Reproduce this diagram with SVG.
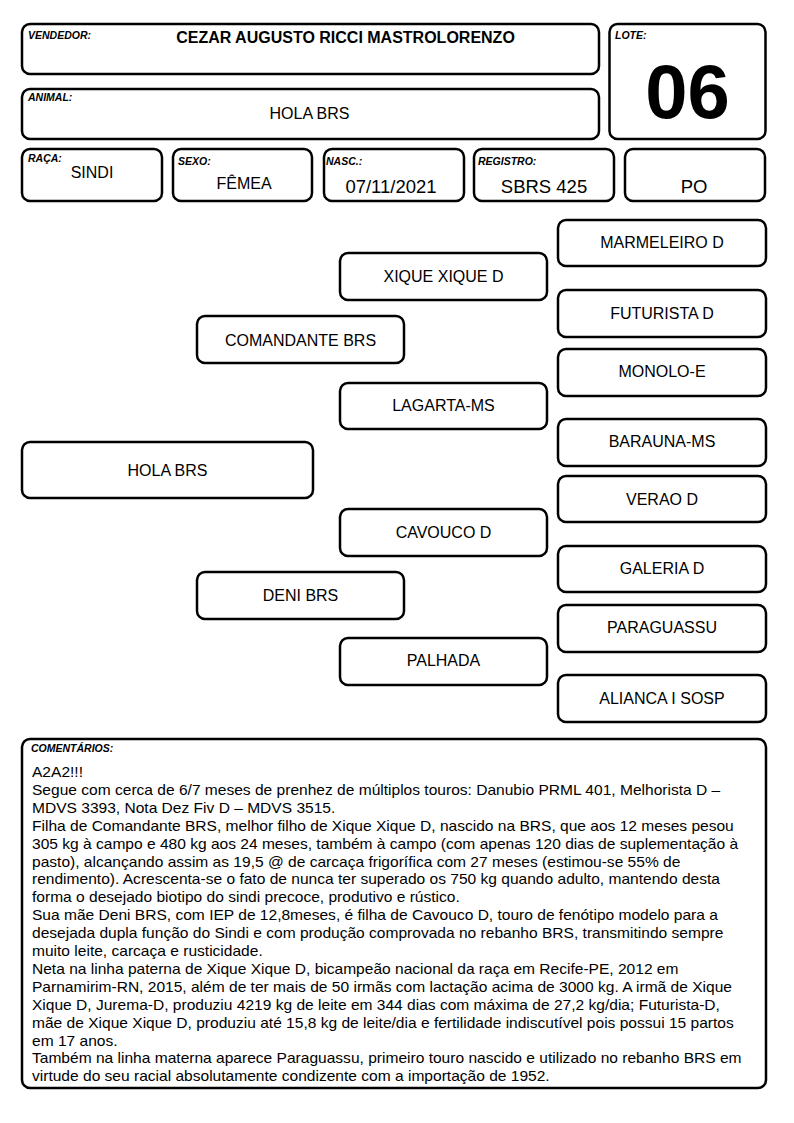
<svg xmlns="http://www.w3.org/2000/svg" width="794" height="1123" viewBox="0 0 794 1123">
<style>
.box{fill:#fff;stroke:#000;stroke-width:2.5}
text{font-family:"Liberation Sans",Arial,sans-serif;fill:#000}
.lbl{font-weight:bold;font-style:italic;font-size:10.5px}
.val{font-size:16px;text-anchor:middle}
.big{font-size:18.5px;text-anchor:middle}
.node text{font-size:16px;text-anchor:middle}
.cm{font-size:15.55px}
</style>
<rect width="794" height="1123" fill="#fff"/>
<g id="header">
  <g id="vendedor">
    <rect class="box" x="22" y="24" width="577" height="50" rx="8"/>
    <text class="lbl" x="28" y="39">VENDEDOR:</text>
    <text x="345.5" y="43" font-size="16" font-weight="bold" text-anchor="middle">CEZAR AUGUSTO RICCI MASTROLORENZO</text>
  </g>
  <g id="lote">
    <rect class="box" x="609.5" y="24" width="156" height="115" rx="8"/>
    <text class="lbl" x="615" y="39">LOTE:</text>
    <text x="687.5" y="118" font-size="76" font-weight="bold" text-anchor="middle">06</text>
  </g>
  <g id="animal">
    <rect class="box" x="22" y="89" width="577" height="50" rx="8"/>
    <text class="lbl" x="28" y="101">ANIMAL:</text>
    <text class="val" x="309.5" y="119">HOLA BRS</text>
  </g>
  <g id="raca">
    <rect class="box" x="22" y="149" width="140" height="52" rx="8"/>
    <text class="lbl" x="28" y="162">RAÇA:</text>
    <text class="val" x="92" y="178">SINDI</text>
  </g>
  <g id="sexo">
    <rect class="box" x="173" y="149" width="139" height="52" rx="8"/>
    <text class="lbl" x="178" y="164.5">SEXO:</text>
    <text class="val" x="244" y="189">FÊMEA</text>
  </g>
  <g id="nasc">
    <rect class="box" x="324" y="149" width="140" height="52" rx="8"/>
    <text class="lbl" x="326" y="164.5">NASC.:</text>
    <text class="big" x="391" y="193">07/11/2021</text>
  </g>
  <g id="registro">
    <rect class="box" x="474" y="149" width="140" height="52" rx="8"/>
    <text class="lbl" x="478" y="164.5">REGISTRO:</text>
    <text class="big" x="544" y="193">SBRS 425</text>
  </g>
  <g id="po">
    <rect class="box" x="625" y="149" width="140" height="52" rx="8"/>
    <text class="big" x="694" y="193">PO</text>
  </g>
</g>
<g id="connectors"/>
<g id="pedigree">
  <g id="n-hola" class="node"><rect class="box" x="22" y="442" width="291" height="56" rx="8"/><text x="167.5" y="476">HOLA BRS</text></g>
  <g id="n-comandante" class="node"><rect class="box" x="197" y="316" width="207" height="47" rx="8"/><text x="300.5" y="346">COMANDANTE BRS</text></g>
  <g id="n-deni" class="node"><rect class="box" x="197" y="572" width="207" height="47" rx="8"/><text x="300.5" y="601">DENI BRS</text></g>
  <g id="n-xique" class="node"><rect class="box" x="340" y="253" width="207" height="47" rx="8"/><text x="443.5" y="282">XIQUE XIQUE D</text></g>
  <g id="n-lagarta" class="node"><rect class="box" x="340" y="383" width="207" height="46" rx="8"/><text x="443.5" y="411">LAGARTA-MS</text></g>
  <g id="n-cavouco" class="node"><rect class="box" x="340" y="509" width="207" height="47" rx="8"/><text x="443.5" y="538">CAVOUCO D</text></g>
  <g id="n-palhada" class="node"><rect class="box" x="340" y="638" width="207" height="47" rx="8"/><text x="443.5" y="666">PALHADA</text></g>
  <g id="n-marmeleiro" class="node"><rect class="box" x="558" y="220" width="208" height="46" rx="8"/><text x="662" y="248">MARMELEIRO D</text></g>
  <g id="n-futurista" class="node"><rect class="box" x="558" y="290" width="208" height="47" rx="8"/><text x="662" y="319">FUTURISTA D</text></g>
  <g id="n-monolo" class="node"><rect class="box" x="558" y="349" width="208" height="47" rx="8"/><text x="662" y="377">MONOLO-E</text></g>
  <g id="n-barauna" class="node"><rect class="box" x="558" y="419" width="208" height="47" rx="8"/><text x="662" y="447">BARAUNA-MS</text></g>
  <g id="n-verao" class="node"><rect class="box" x="558" y="476" width="208" height="46" rx="8"/><text x="662" y="505">VERAO D</text></g>
  <g id="n-galeria" class="node"><rect class="box" x="558" y="546" width="208" height="46" rx="8"/><text x="662" y="574">GALERIA D</text></g>
  <g id="n-paraguassu" class="node"><rect class="box" x="558" y="605" width="208" height="47" rx="8"/><text x="662" y="633">PARAGUASSU</text></g>
  <g id="n-alianca" class="node"><rect class="box" x="558" y="675" width="208" height="47" rx="8"/><text x="662" y="704">ALIANCA I SOSP</text></g>
</g>
<g id="comentarios">
  <rect class="box" x="22" y="739" width="744" height="349" rx="8"/>
  <text class="lbl" x="31" y="752">COMENTÁRIOS:</text>
  <text class="cm" x="32" y="777">A2A2!!!</text>
  <text class="cm" x="32" y="794.9">Segue com cerca de 6/7 meses de prenhez de múltiplos touros: Danubio PRML 401, Melhorista D –</text>
  <text class="cm" x="32" y="812.8">MDVS 3393, Nota Dez Fiv D – MDVS 3515.</text>
  <text class="cm" x="32" y="830.7">Filha de Comandante BRS, melhor filho de Xique Xique D, nascido na BRS, que aos 12 meses pesou</text>
  <text class="cm" x="32" y="848.6">305 kg à campo e 480 kg aos 24 meses, também à campo (com apenas 120 dias de suplementação à</text>
  <text class="cm" x="32" y="866.5">pasto), alcançando assim as 19,5 @ de carcaça frigorífica com 27 meses (estimou-se 55% de</text>
  <text class="cm" x="32" y="884.4">rendimento). Acrescenta-se o fato de nunca ter superado os 750 kg quando adulto, mantendo desta</text>
  <text class="cm" x="32" y="902.3">forma o desejado biotipo do sindi precoce, produtivo e rústico.</text>
  <text class="cm" x="32" y="920.2">Sua mãe Deni BRS, com IEP de 12,8meses, é filha de Cavouco D, touro de fenótipo modelo para a</text>
  <text class="cm" x="32" y="938.1">desejada dupla função do Sindi e com produção comprovada no rebanho BRS, transmitindo sempre</text>
  <text class="cm" x="32" y="956">muito leite, carcaça e rusticidade.</text>
  <text class="cm" x="32" y="973.9">Neta na linha paterna de Xique Xique D, bicampeão nacional da raça em Recife-PE, 2012 em</text>
  <text class="cm" x="32" y="991.8">Parnamirim-RN, 2015, além de ter mais de 50 irmãs com lactação acima de 3000 kg. A irmã de Xique</text>
  <text class="cm" x="32" y="1009.7">Xique D, Jurema-D, produziu 4219 kg de leite em 344 dias com máxima de 27,2 kg/dia; Futurista-D,</text>
  <text class="cm" x="32" y="1027.6">mãe de Xique Xique D, produziu até 15,8 kg de leite/dia e fertilidade indiscutível pois possui 15 partos</text>
  <text class="cm" x="32" y="1045.5">em 17 anos.</text>
  <text class="cm" x="32" y="1063.4">Também na linha materna aparece Paraguassu, primeiro touro nascido e utilizado no rebanho BRS em</text>
  <text class="cm" x="32" y="1081.3">virtude do seu racial absolutamente condizente com a importação de 1952.</text>
</g>
</svg>
